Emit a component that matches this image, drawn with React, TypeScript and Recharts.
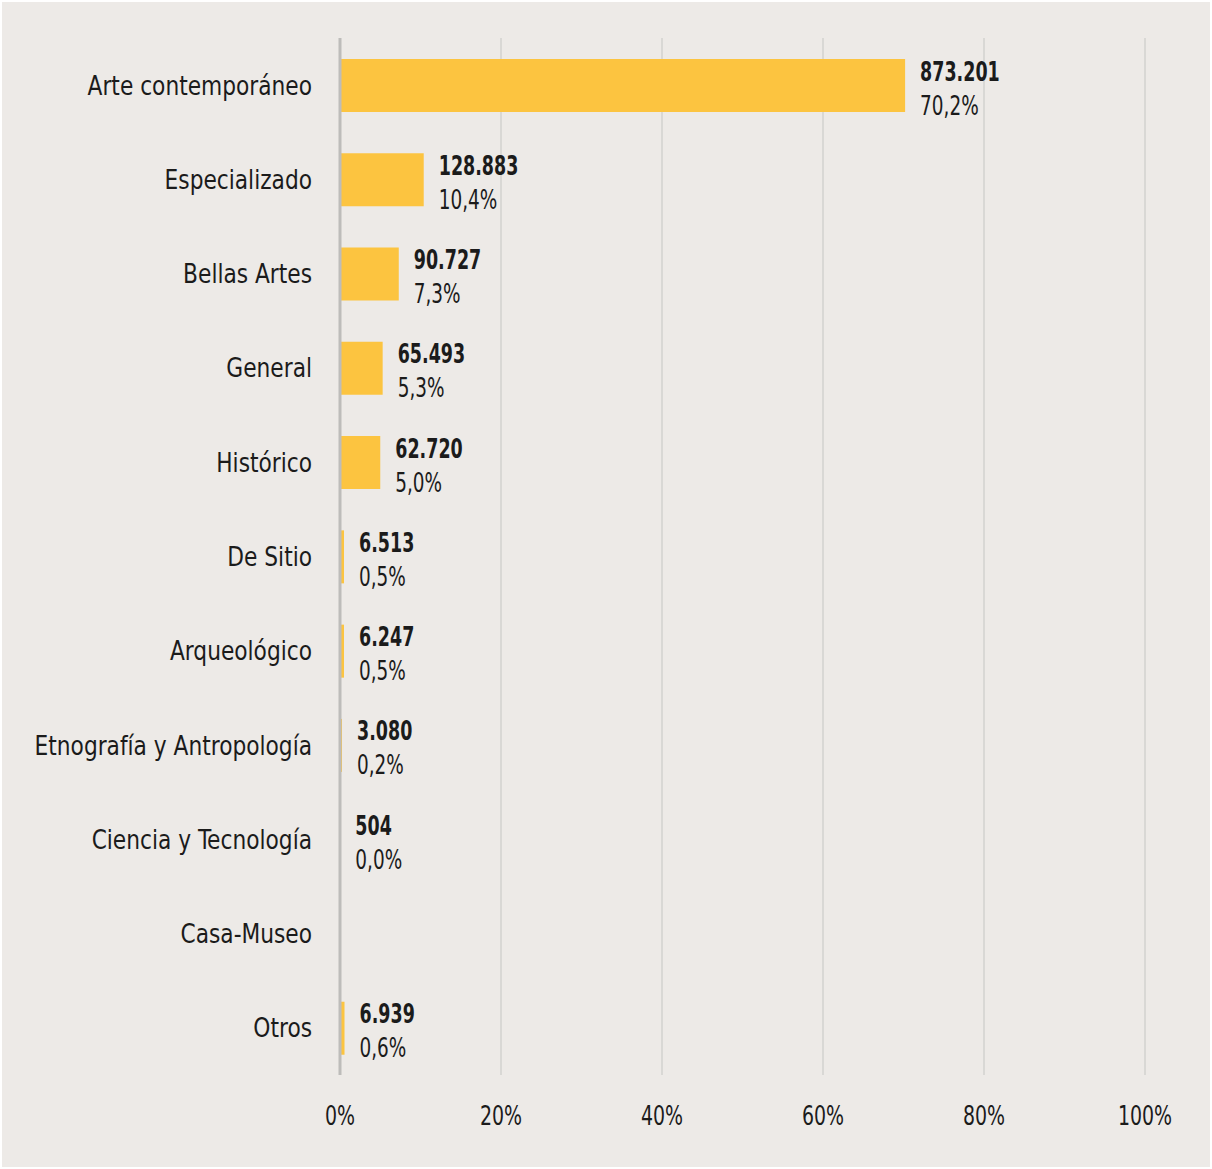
import React from "react";
import { BarChart, Bar, XAxis, YAxis, CartesianGrid, LabelList } from "recharts";

const categories = [
  "Arte contemporáneo",
  "Especializado",
  "Bellas Artes",
  "General",
  "Histórico",
  "De Sitio",
  "Arqueológico",
  "Etnografía y Antropología",
  "Ciencia y Tecnología",
  "Casa-Museo",
  "Otros",
];
const counts: (number | null)[] = [873201, 128883, 90727, 65493, 62720, 6513, 6247, 3080, 504, null, 6939];
const percents: (number | null)[] = [70.2, 10.4, 7.3, 5.3, 5.0, 0.5, 0.5, 0.2, 0.0, null, 0.6];
// bar lengths (percent of total); 504 is a sliver of ~0.04%
const barLengths: (number | null)[] = [70.2, 10.4, 7.3, 5.3, 5.0, 0.5, 0.5, 0.25, 0.04, null, 0.56];
const xTicks = [0, 20, 40, 60, 80, 100];

const data = categories.map((name, i) => ({ name, pct: barLengths[i], idx: i }));

const FONT = "'DejaVu Sans Condensed', 'DejaVu Sans', sans-serif";
const TEXT = "#1b1b1b";

const fmtCount = (n: number) => String(n).replace(/\B(?=(\d{3})+(?!\d))/g, ".");
const fmtPct = (n: number) => n.toFixed(1).replace(".", ",") + "%";

const ScaledText = ({ x, y, sx, anchor = "start", bold = false, size = 27, children }: any) => (
  <g transform={`translate(${x},${y}) scale(${sx},1)`}>
    <text
      x={0}
      y={0}
      textAnchor={anchor}
      fontFamily={FONT}
      fontSize={size}
      fontWeight={bold ? "bold" : "normal"}
      fill={TEXT}
    >
      {children}
    </text>
  </g>
);

const ValueLabel = (props: any) => {
  const { x, y, width, height, value } = props;
  const i = Number(value);
  const c = counts[i];
  const p = percents[i];
  if (c == null || p == null) return null;
  const cx = Number(x) + Number(width) + 15;
  const cy = Number(y) + Number(height) / 2;
  return (
    <g>
      <ScaledText x={cx} y={cy - 5} sx={0.72} bold>
        {fmtCount(c)}
      </ScaledText>
      <ScaledText x={cx} y={cy + 29} sx={0.76}>
        {fmtPct(p)}
      </ScaledText>
    </g>
  );
};

const YTick = (props: any) => {
  const { x, y, payload } = props;
  return (
    <ScaledText x={x} y={Number(y) + 9.5} sx={0.895} anchor="end">
      {payload.value}
    </ScaledText>
  );
};

const XTick = (props: any) => {
  const { x, y, payload } = props;
  return (
    <ScaledText x={x} y={Number(y) + 20} sx={0.78} anchor="middle">
      {`${payload.value}%`}
    </ScaledText>
  );
};

export default function App() {
  return (
    <div style={{ position: "absolute", left: 0, top: 0, width: 1212, height: 1169, background: "#ffffff" }}>
      <div style={{ position: "absolute", left: 2, top: 2, width: 1208, height: 1165, background: "#EDEAE7" }} />
      <div style={{ position: "absolute", left: 0, top: 0 }}>
        <BarChart
          width={1212}
          height={1169}
          data={data}
          layout="vertical"
          margin={{ top: 38, right: 67, bottom: 34, left: 40 }}
        >
          <CartesianGrid horizontal={false} stroke="#D9D8D5" strokeWidth={2} />
          <XAxis
            type="number"
            domain={[0, 100]}
            ticks={xTicks}
            axisLine={false}
            tickLine={false}
            tickMargin={24}
            height={60}
            tick={<XTick />}
            interval={0}
          />
          <YAxis
            type="category"
            dataKey="name"
            width={300}
            axisLine={{ stroke: "#BDBCBA", strokeWidth: 3 }}
            tickLine={false}
            tickMargin={22}
            interval={0}
            tick={<YTick />}
          />
          <Bar dataKey="pct" fill="#FCC440" barSize={53} isAnimationActive={false}>
            <LabelList dataKey="idx" content={ValueLabel} />
          </Bar>
        </BarChart>
      </div>
    </div>
  );
}
